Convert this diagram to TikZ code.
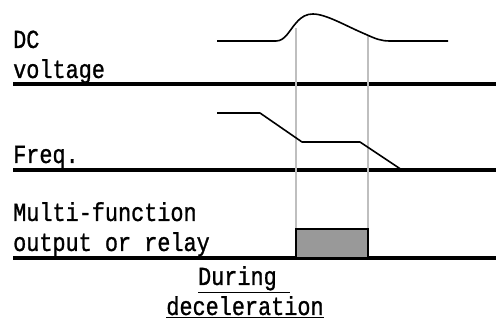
\documentclass[tikz,border=0pt]{standalone}
\usepackage{fontspec}
\setmonofont[FakeStretch=0.84,FakeBold=1]{Liberation Mono}
\begin{document}
\begin{tikzpicture}[x=1pt,y=-1pt,
  lbl/.style={anchor=base west,inner sep=0pt,font=\ttfamily\fontsize{26}{30}\selectfont},
  axis/.style={line width=3.2pt},
  sig/.style={line width=1.6pt},
  guide/.style={line width=1.3pt,color=black!25}]
\useasboundingbox (0,0) rectangle (496,323);
% labels
\node[lbl] (dc) at (13,48) {DC};
\node[lbl] (volt) at (13,78) {voltage};
\node[lbl] (freq) at (13,163) {Freq.};
\node[lbl] (multi) at (13,221) {Multi-function};
\node[lbl] (outp) at (13,251) {output or relay};
\node[lbl,anchor=base] (during) at (244,285) {\underline{During\ }};
\node[lbl,anchor=base] (decel) at (245,315) {\underline{deceleration}};
% baselines
\coordinate (a1) at (13,84); \coordinate (a2) at (496,84);
\coordinate (b1) at (13,170); \coordinate (b2) at (496,170);
\coordinate (c1) at (13,258); \coordinate (c2) at (496,258);
\draw[axis] (a1) -- (a2);
\draw[axis] (b1) -- (b2);
\draw[axis] (c1) -- (c2);
% guides
\coordinate (g1t) at (296,28); \coordinate (g1b) at (296,229);
\coordinate (g2t) at (368,35); \coordinate (g2b) at (368,229);
\draw[guide] (g1t) -- (g1b);
\draw[guide] (g2t) -- (g2b);
% DC voltage curve
\draw[sig,line join=round] (217,41) -- (276,41) .. controls (285,41) and (289,31) .. (296,23)
  .. controls (302,16) and (307,14) .. (313,14)
  .. controls (326,14) and (346,26) .. (365,34)
  .. controls (376,39) and (381,41) .. (390,41) -- (448,41);
% frequency
\draw[sig,line join=round] (217,113) -- (260,113) -- (302,142) -- (360,142) -- (402,170);
% relay box
\coordinate (r1) at (296,229); \coordinate (r2) at (368,258);
\draw[line width=1.6pt,fill=black!40] (r1) rectangle (r2);
\end{tikzpicture}
\end{document}
